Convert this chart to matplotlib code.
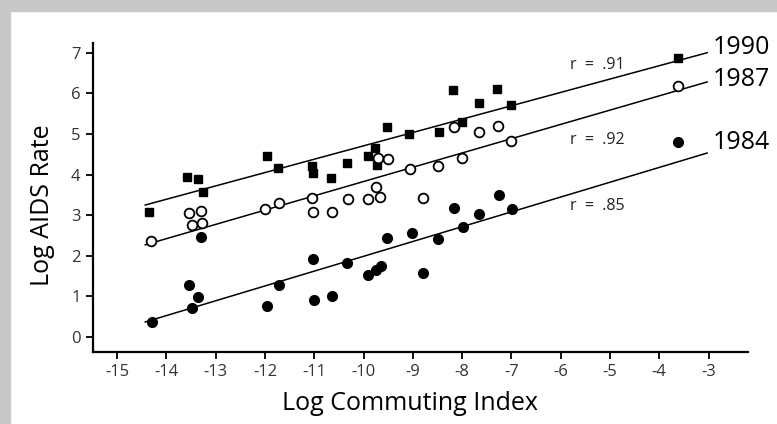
import matplotlib
matplotlib.use("Agg")
import matplotlib.pyplot as plt
from matplotlib.patches import Rectangle
import numpy as np

plt.rcParams['font.family'] = ['Open Sans', 'DejaVu Sans']

# ---- data ----
x_1990 = [-14.35, -13.58, -13.36, -13.25, -11.96, -11.74, -11.05, -11.02, -10.66, -10.33,
          -9.91, -9.77, -9.73, -9.53, -9.07, -8.47, -8.18, -8.00, -7.66, -7.29, -7.00, -3.62]
y_1990 = [3.08, 3.94, 3.89, 3.57, 4.46, 4.16, 4.21, 4.03, 3.92, 4.28,
          4.46, 4.66, 4.24, 5.17, 5.00, 5.05, 6.08, 5.30, 5.76, 6.11, 5.71, 6.87]

x_1987 = [-14.31, -13.54, -13.30, -13.48, -13.28, -12.00, -11.71, -11.05, -11.02, -10.64,
          -10.31, -9.91, -9.75, -9.67, -9.71, -9.50, -9.06, -8.79, -8.49, -8.16,
          -8.00, -7.66, -7.27, -7.00, -3.62]
y_1987 = [2.36, 3.05, 3.10, 2.76, 2.81, 3.15, 3.30, 3.42, 3.08, 3.08,
          3.40, 3.40, 3.69, 3.45, 4.41, 4.38, 4.14, 3.42, 4.21, 5.17,
          4.41, 5.05, 5.20, 4.83, 6.18]

x_1984 = [-14.29, -13.54, -13.36, -13.48, -13.30, -11.96, -11.71, -11.02, -11.00, -10.64,
          -10.33, -9.91, -9.75, -9.64, -9.52, -9.02, -8.79, -8.49, -8.16, -7.98,
          -7.66, -7.25, -6.99, -3.62]
y_1984 = [0.37, 1.28, 0.99, 0.71, 2.46, 0.76, 1.28, 1.92, 0.91, 1.01,
          1.82, 1.53, 1.65, 1.75, 2.44, 2.56, 1.58, 2.41, 3.18, 2.71,
          3.03, 3.50, 3.15, 4.80]

# fitted lines as drawn (end points)
line_x = [-14.43, -3.03]
line_1990 = [3.25, 7.00]
line_1987 = [2.27, 6.28]
line_1984 = [0.37, 4.53]

years = ['1990', '1987', '1984']
year_label_y = [7.14, 6.33, 4.80]
r_labels = ['r = .91', 'r = .92', 'r = .85']
r_label_y = [6.70, 4.85, 3.23]

xticks = list(range(-15, -2))
yticks = list(range(0, 8))

fig = plt.figure(figsize=(7.77, 4.24), dpi=100)
# scanned page frame
fig.patches.append(Rectangle((0, 1 - 11 / 424), 1, 11 / 424, transform=fig.transFigure,
                             color='#c8c8c8', zorder=-1))
fig.patches.append(Rectangle((0, 0), 10 / 777, 1, transform=fig.transFigure,
                             color='#c8c8c8', zorder=-1))

ax = fig.add_axes([93 / 777, 1 - 352 / 424, 655 / 777, 309 / 424])

ax.plot(line_x, line_1990, color='black', lw=1.1, zorder=2)
ax.plot(line_x, line_1987, color='black', lw=1.1, zorder=2)
ax.plot(line_x, line_1984, color='black', lw=1.1, zorder=2)

ax.plot(x_1990, y_1990, 's', color='black', ms=5.5, zorder=3)
ax.plot(x_1987, y_1987, 'o', mfc='white', mec='black', mew=1.3, ms=7, zorder=3)
ax.plot(x_1984, y_1984, 'o', color='black', ms=7, zorder=3)

for yr, yy in zip(years, year_label_y):
    ax.text(-2.91, yy, yr, fontsize=18, ha='left', va='center', clip_on=False)
for rl, yy in zip(r_labels, r_label_y):
    ax.text(-5.26, yy, rl.replace(' ', '  '), fontsize=11.5, ha='center', va='center',
            color='#222222')

ax.set_xlim(-15.49, -2.2)
ax.set_ylim(-0.37, 7.24)
ax.set_xticks(xticks)
ax.set_xticklabels([str(t) for t in xticks])
ax.set_yticks(yticks)

ax.spines['top'].set_visible(False)
ax.spines['right'].set_visible(False)
ax.spines['left'].set_linewidth(1.6)
ax.spines['bottom'].set_linewidth(1.6)
ax.tick_params(direction='out', length=5, width=1.3, labelsize=12, labelcolor='#333333', pad=4)

ax.set_xlabel('Log Commuting Index', fontsize=18)
ax.set_ylabel('Log AIDS Rate', fontsize=18)
ax.xaxis.set_label_coords(0.484, -0.126)
ax.yaxis.set_label_coords(-0.058, 0.476)

plt.savefig('out.png', dpi=100)
